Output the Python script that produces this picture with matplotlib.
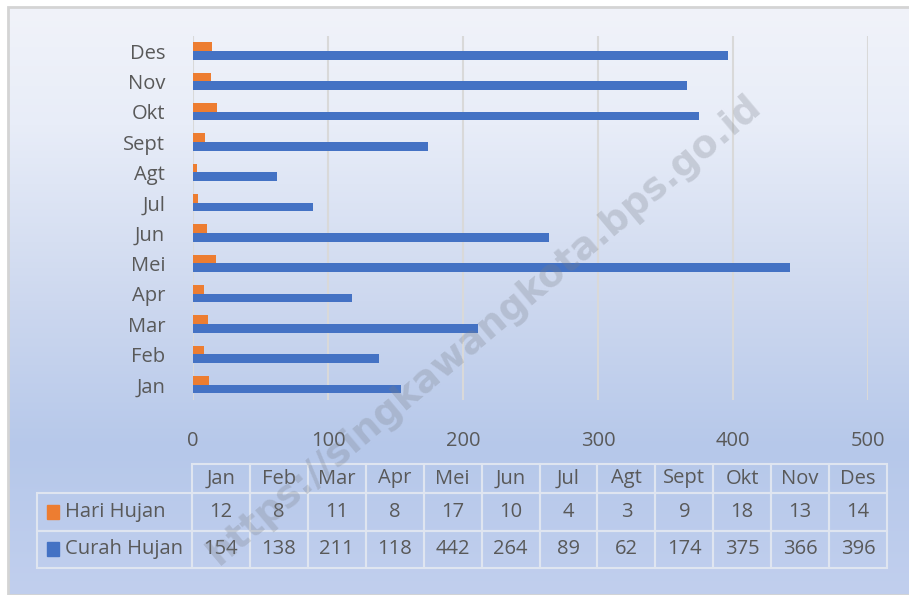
import numpy as np
import matplotlib
matplotlib.use("Agg")
import matplotlib.pyplot as plt
from matplotlib import font_manager as fm
from matplotlib.table import Table
from matplotlib.patches import Rectangle
from matplotlib.colors import to_rgb

# data
months = ['Jan', 'Feb', 'Mar', 'Apr', 'Mei', 'Jun', 'Jul', 'Agt', 'Sept', 'Okt', 'Nov', 'Des']
hari_hujan = [12, 8, 11, 8, 17, 10, 4, 3, 9, 18, 13, 14]
curah_hujan = [154, 138, 211, 118, 442, 264, 89, 62, 174, 375, 366, 396]
series_names = ['Hari Hujan', 'Curah Hujan']
x_ticks = [0, 100, 200, 300, 400, 500]

ORANGE = '#ED7D31'
BLUE = '#4472C4'
TXT = '#595959'

# pick a narrow font if there is one
fam = 'DejaVu Sans'
for f in ['Liberation Sans Narrow', 'Open Sans', 'Noto Sans']:
    try:
        fm.findfont(f, fallback_to_default=False)
        fam = f
        break
    except Exception:
        pass
plt.rcParams['font.family'] = [fam, 'DejaVu Sans']

W, H = 909, 595
fig = plt.figure(figsize=(W / 100, H / 100), dpi=100)
fig.patch.set_facecolor('white')

def box(x0, y0, x1, y1):
    # pixel box (top-left origin) -> figure fractions
    return [x0 / W, 1 - y1 / H, (x1 - x0) / W, (y1 - y0) / H]

# background gradient
bg = fig.add_axes(box(8, 7, W, H), zorder=0)
stops = [0.0, 0.2, 0.5, 0.75, 1.0]
cols = [to_rgb(c) for c in ['#f1f3fa', '#e8edf8', '#cdd8ef', '#b6c8ea', '#c1cfee']]
t = np.linspace(0, 1, 300)
grad = np.stack([np.interp(t, stops, [c[i] for c in cols]) for i in range(3)], axis=-1)
bg.imshow(grad[:, None, :], aspect='auto', extent=[0, 1, 0, 1])
bg.set_axis_off()
fig.patches.append(Rectangle((8 / W, 0), 1, 1 - 7 / H, transform=fig.transFigure,
                             fill=False, edgecolor='#d4d4d4', lw=2, zorder=1))

# bar chart
ax = fig.add_axes(box(193, 36, 868, 400), zorder=2)
ax.patch.set_visible(False)
y = np.arange(len(months))
h = 0.29
ax.barh(y + 0.15, hari_hujan, height=h, color=ORANGE, zorder=3)
ax.barh(y - 0.14, curah_hujan, height=h, color=BLUE, zorder=3)
ax.set_xlim(0, 500)
ax.set_ylim(-0.5, len(months) - 0.5)
ax.set_xticks(x_ticks)
ax.set_yticks(y, months)
ax.xaxis.grid(True, color='#d9d9d9', lw=1.5)
ax.set_axisbelow(True)
for s in ax.spines.values():
    s.set_visible(False)
ax.tick_params(axis='both', length=0, labelsize=14.5, colors=TXT)
ax.tick_params(axis='y', pad=20)
ax.tick_params(axis='x', pad=22)

# data table
tax = fig.add_axes(box(37, 464, 887, 568), zorder=2)
tax.set_axis_off()
tw = 850.0
th = 104.0
w_lab = 155 / tw
w_col = (1 - w_lab) / len(months)
h_head = 29 / th
h_row = (1 - h_head) / 2
tab = Table(tax, bbox=[0, 0, 1, 1])
edge = '#dfe5f0'
for j, m in enumerate(months):
    tab.add_cell(0, j + 1, width=w_col, height=h_head, text=m, loc='center',
                 facecolor='none', edgecolor=edge)
for i, (name, vals) in enumerate(zip(series_names, [hari_hujan, curah_hujan])):
    c = tab.add_cell(i + 1, 0, width=w_lab, height=h_row, text=name, loc='left',
                     facecolor='none', edgecolor=edge)
    c.PAD = 28 / 155
    for j, v in enumerate(vals):
        tab.add_cell(i + 1, j + 1, width=w_col, height=h_row, text=str(v), loc='center',
                     facecolor='none', edgecolor=edge)
tab.auto_set_font_size(False)
tab.set_fontsize(14.5)
for cell in tab.get_celld().values():
    cell.set_linewidth(1.5)
    cell.get_text().set_color(TXT)
tax.add_table(tab)

# legend keys inside the row labels
for i, colr in enumerate([ORANGE, BLUE]):
    yc = 1 - h_head - h_row * (i + 0.5)
    tax.add_patch(Rectangle((10 / tw, yc - 7 / th), 12 / tw, 14 / th,
                            transform=tax.transAxes, color=colr, clip_on=False))

# watermark
fig.text(485 / W, 1 - 330 / H, 'https://singkawangkota.bps.go.id', rotation=40,
         rotation_mode='anchor', ha='center', va='center', fontsize=27,
         fontweight='bold', color='#7a7f88', alpha=0.28, zorder=5,
         family=['DejaVu Sans'])

fig.savefig('out.png', dpi=100)
